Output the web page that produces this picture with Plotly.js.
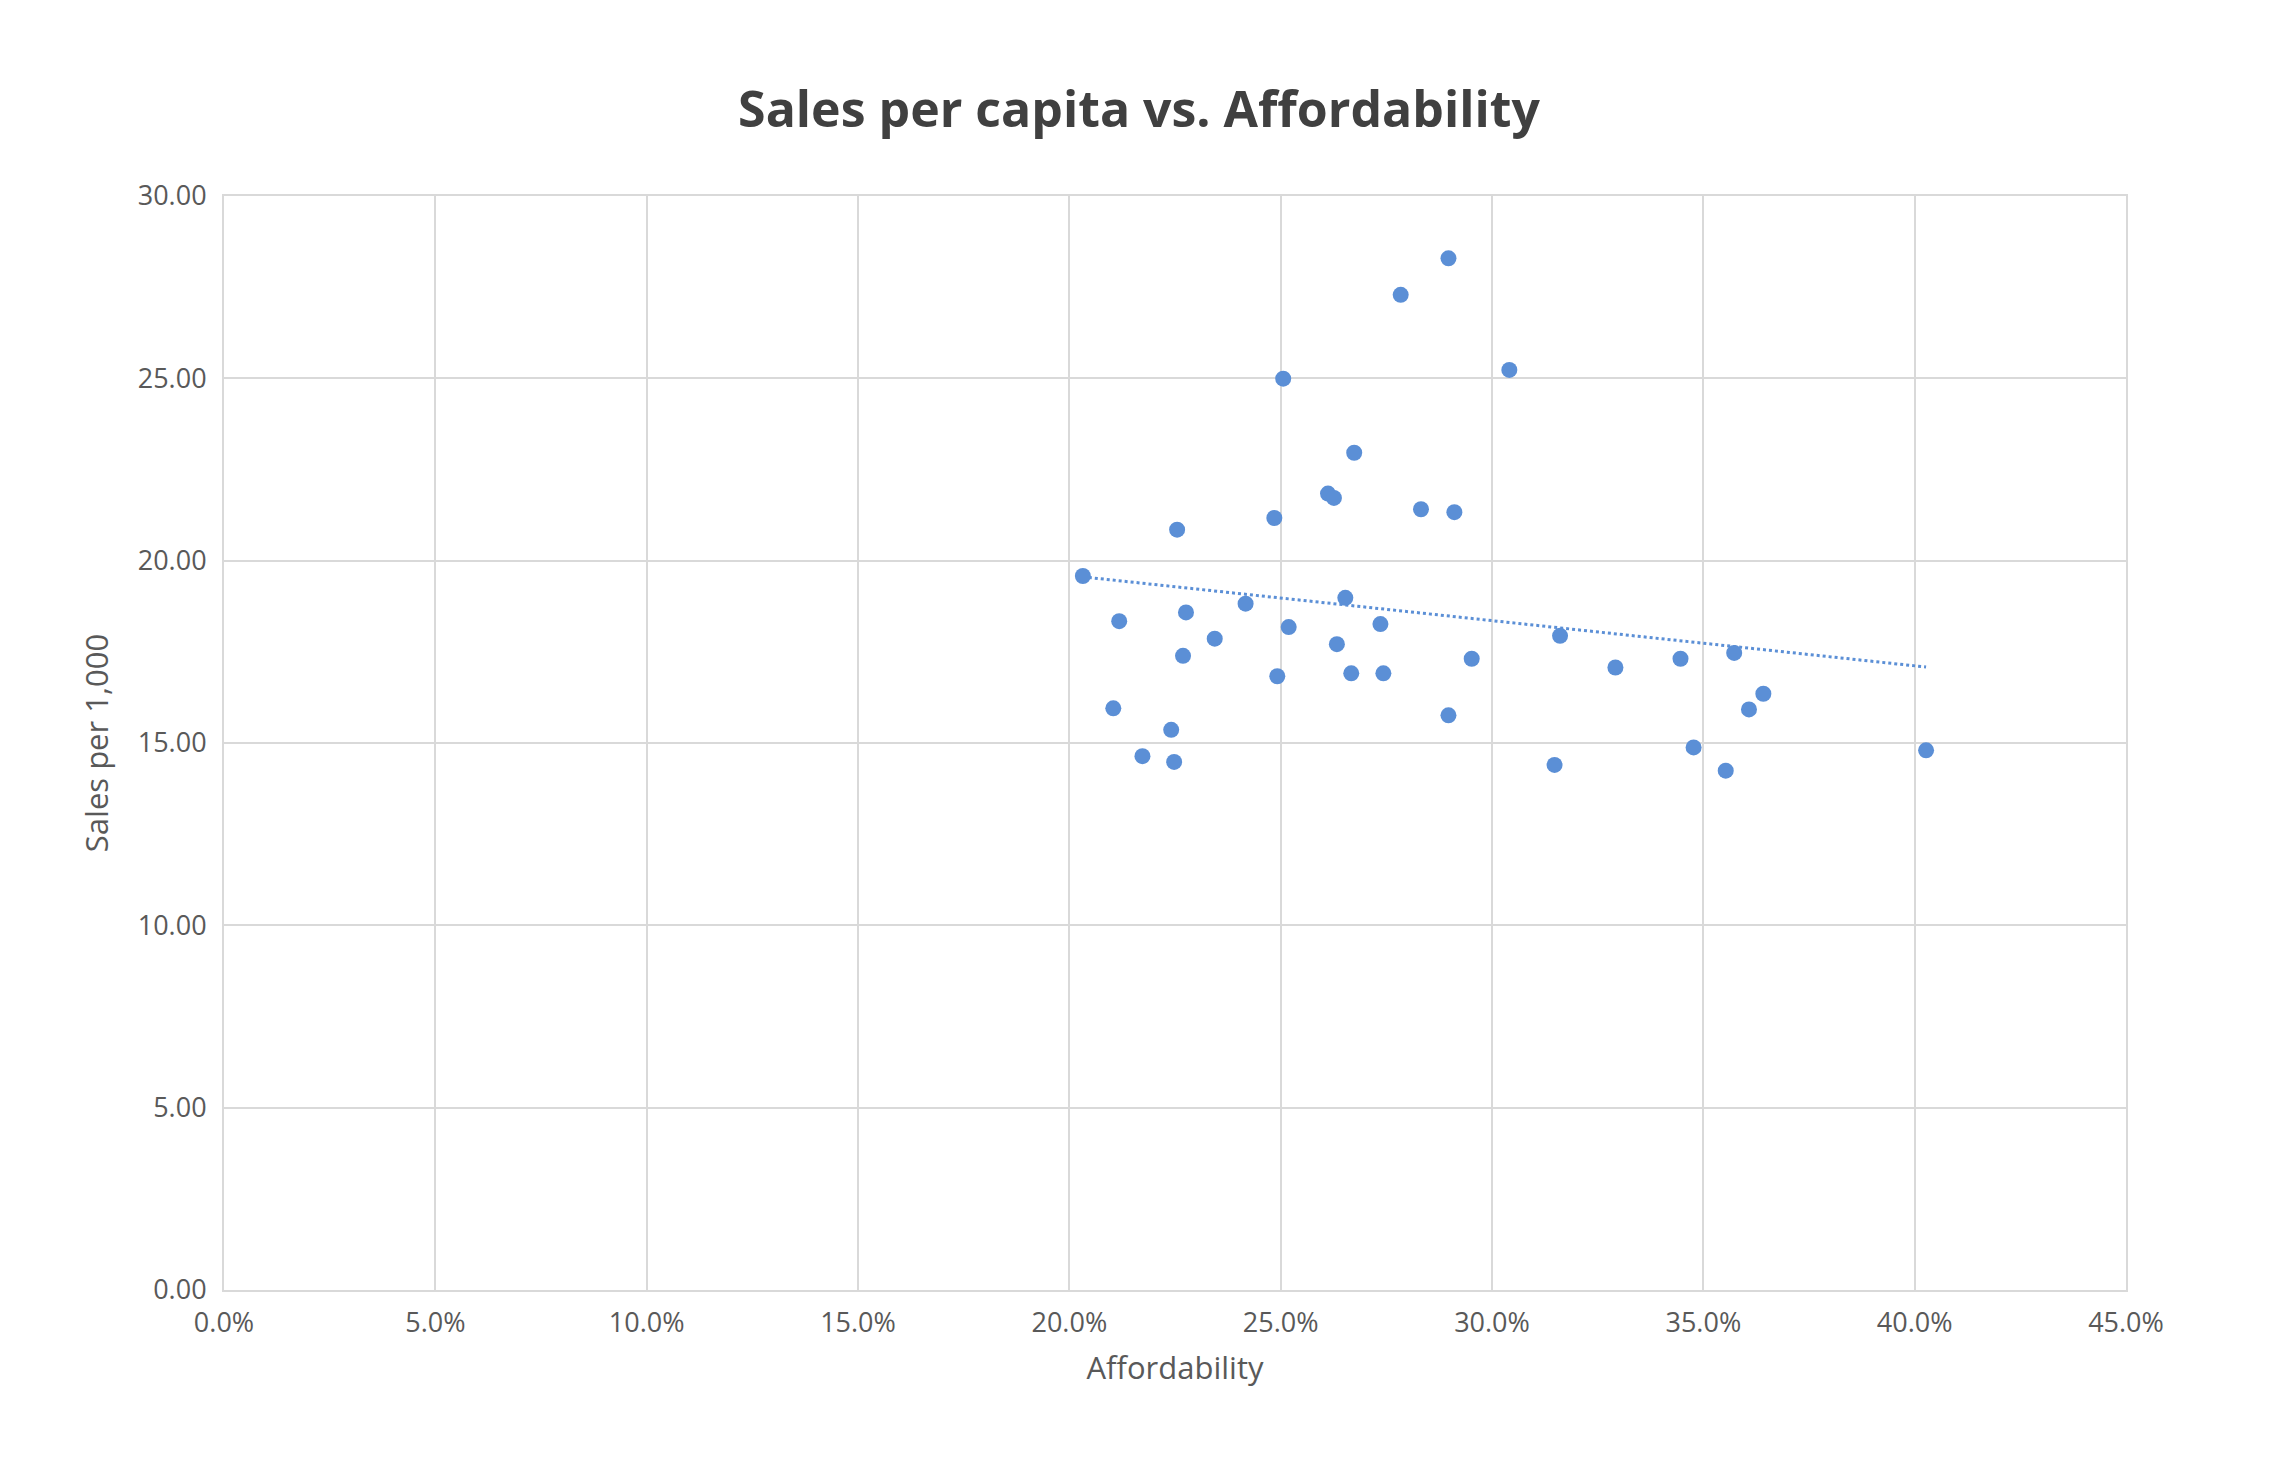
<!DOCTYPE html>
<html><head><meta charset="utf-8">
<script src="https://cdn.plot.ly/plotly-3.0.1.min.js"></script>
<style>html,body{margin:0;padding:0;background:#fff}#c{width:2278px;height:1466px}</style>
</head><body><div id="c"></div>
<script>
const affordability = [0.2032,0.2255,0.2118,0.2104,0.2173,0.2241,0.2248,0.2269,0.2276,0.2344,0.2417,0.2485,0.2492,0.2506,0.2519,0.2612,0.2626,0.2633,0.2653,0.2667,0.2674,0.2736,0.2743,0.2784,0.2832,0.2897,0.2897,0.2911,0.2952,0.3041,0.3148,0.3161,0.3292,0.3446,0.3477,0.3553,0.3573,0.3608,0.3642,0.4027];
const salesPer1000 = [19.58,20.85,18.34,15.95,14.64,15.36,14.48,17.39,18.58,17.86,18.82,21.17,16.83,24.99,18.18,21.84,21.72,17.71,18.98,16.91,22.96,18.26,16.91,27.29,21.41,28.29,15.76,21.33,17.31,25.23,14.40,17.94,17.07,17.31,14.88,14.24,17.47,15.92,16.35,14.80];
const xTicks = [0,0.05,0.10,0.15,0.20,0.25,0.30,0.35,0.40,0.45];
const yTicks = [0,5,10,15,20,25,30];

const n = affordability.length;
const mx = affordability.reduce((a,b)=>a+b,0)/n, my = salesPer1000.reduce((a,b)=>a+b,0)/n;
let sxy=0,sxx=0;
for(let i=0;i<n;i++){sxy+=(affordability[i]-mx)*(salesPer1000[i]-my);sxx+=(affordability[i]-mx)**2;}
const slope=sxy/sxx, icpt=my-slope*mx;
const xmin=Math.min(...affordability), xmax=Math.max(...affordability);

const grid='#d9d9d9', tc='#595959';
Plotly.newPlot('c',[
 {x:[xmin,xmax],y:[icpt+slope*xmin,icpt+slope*xmax],mode:'lines',line:{color:'#5b8fd6',width:3,dash:'dot'},hoverinfo:'skip'},
 {x:affordability,y:salesPer1000,mode:'markers',marker:{color:'#5b8fd6',size:16}}
],{
 width:2278,height:1466,showlegend:false,paper_bgcolor:'#fff',plot_bgcolor:'#fff',
 margin:{l:224,r:152,t:196,b:176},
 font:{family:'Open Sans, Noto Sans, sans-serif',color:tc},
 title:{text:'<b>Sales per capita vs. Affordability</b>',font:{size:50,color:'#404040'},x:0.5,xanchor:'center',y:0.925,yanchor:'middle'},
 xaxis:{range:[0,0.45],tickvals:xTicks,tickformat:'.1%',showgrid:true,gridcolor:grid,gridwidth:2,zeroline:false,
   showline:true,linecolor:grid,linewidth:2,mirror:true,ticks:'outside',ticklen:8,tickcolor:'rgba(0,0,0,0)',tickfont:{size:27,color:tc},
   title:{text:'Affordability',font:{size:31,color:tc},standoff:18}},
 yaxis:{range:[0,30],tickvals:yTicks,tickformat:'.2f',showgrid:true,gridcolor:grid,gridwidth:2,zeroline:false,
   showline:true,linecolor:grid,linewidth:2,mirror:true,ticks:'outside',ticklen:10,tickcolor:'rgba(0,0,0,0)',tickfont:{size:27,color:tc},
   title:{text:'Sales per 1,000',font:{size:31,color:tc},standoff:20}}
},{displayModeBar:false});
</script></body></html>
